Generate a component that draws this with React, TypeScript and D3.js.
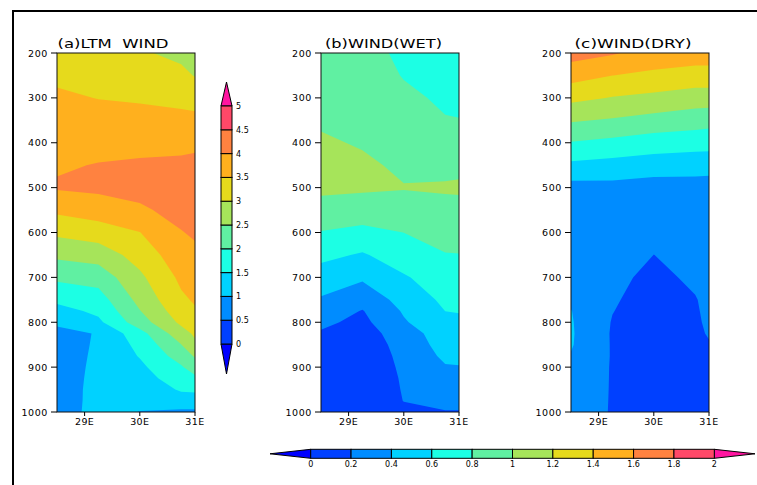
import React from 'react';
import * as d3 from 'd3';

// ---- grid ----
const LONS = [28.5, 29.25, 30, 30.75, 31];
const LEVELS = [200, 250, 300, 350, 400, 450, 500, 550, 600, 650, 700, 750, 775, 800, 825, 850, 875, 900, 925, 950, 975, 1000];
const Y_TICKS = [200, 300, 400, 500, 600, 700, 800, 900, 1000];
const X_TICKS = [29, 30, 31];
const X_TICK_LABELS = ['29E', '30E', '31E'];

// ---- (a) LTM WIND, one array per longitude column (top 200 hPa -> bottom 1000 hPa) ----
const ltm_lon2850 = [3.2, 3.42, 3.57, 3.68, 3.8, 3.95, 4.05, 3.6, 3.1, 2.6, 2.1, 1.6, 1.33, 1.06, 0.9, 0.85, 0.83, 0.82, 0.81, 0.8, 0.79, 0.78];
const ltm_lon2925 = [3.2, 3.35, 3.49, 3.65, 3.85, 4.02, 4.1, 3.75, 3.25, 2.72, 2.2, 1.78, 1.6, 1.4, 1.02, 1.04, 1.06, 1.08, 1.1, 1.12, 1.13, 1.15];
const ltm_lon3000 = [3.05, 3.25, 3.45, 3.65, 3.85, 4.07, 4.15, 3.93, 3.49, 3.2, 2.9, 2.65, 2.48, 2.27, 1.82, 1.64, 1.53, 1.4, 1.3, 1.2, 1.1, 0.99];
const ltm_lon3075 = [2.9, 3.1, 3.38, 3.62, 3.87, 4.1, 4.22, 4.15, 3.98, 3.8, 3.6, 3.42, 3.28, 3.1, 2.8, 2.49, 2.22, 1.95, 1.75, 1.55, 1.3, 0.9];
const ltm_lon3100 = [2.85, 2.98, 3.32, 3.62, 3.88, 4.15, 4.25, 4.22, 4.06, 3.9, 3.73, 3.55, 3.45, 3.28, 3.08, 2.9, 2.55, 2.23, 1.9, 1.59, 1.25, 0.92];

// ---- (b) WIND(WET) ----
const wet_lon2850 = [0.88, 0.91, 0.94, 0.97, 1.03, 1.07, 1.04, 0.93, 0.79, 0.65, 0.51, 0.38, 0.32, 0.24, 0.18, 0.15, 0.13, 0.12, 0.11, 0.1, 0.1, 0.09];
const wet_lon2925 = [0.87, 0.9, 0.93, 0.96, 0.98, 1.04, 1.03, 0.9, 0.75, 0.58, 0.43, 0.27, 0.19, 0.15, 0.13, 0.12, 0.11, 0.1, 0.1, 0.09, 0.09, 0.08];
const wet_lon3000 = [0.76, 0.79, 0.84, 0.88, 0.92, 0.96, 1.01, 0.92, 0.801, 0.7, 0.58, 0.47, 0.42, 0.38, 0.28, 0.25, 0.235, 0.225, 0.215, 0.21, 0.203, 0.17];
const wet_lon3075 = [0.7, 0.73, 0.77, 0.81, 0.88, 0.95, 1.02, 0.95, 0.88, 0.79, 0.7, 0.64, 0.601, 0.55, 0.53, 0.49, 0.44, 0.385, 0.33, 0.29, 0.25, 0.19];
const wet_lon3100 = [0.69, 0.72, 0.76, 0.805, 0.88, 0.95, 1.03, 0.94, 0.88, 0.795, 0.7, 0.64, 0.61, 0.56, 0.53, 0.49, 0.45, 0.39, 0.33, 0.29, 0.25, 0.19];

// ---- (c) WIND(DRY) ----
const dry_lon2850 = [1.68, 1.48, 1.25, 1.02, 0.79, 0.56, 0.33, 0.31, 0.3, 0.3, 0.31, 0.37, 0.405, 0.415, 0.42, 0.415, 0.39, 0.34, 0.32, 0.3, 0.29, 0.28];
const dry_lon2925 = [1.62, 1.401, 1.19, 0.98, 0.75, 0.53, 0.34, 0.32, 0.31, 0.29, 0.25, 0.22, 0.205, 0.19, 0.183, 0.185, 0.187, 0.188, 0.189, 0.19, 0.19, 0.19];
const dry_lon3000 = [1.52, 1.36, 1.15, 0.93, 0.7, 0.5, 0.31, 0.29, 0.24, 0.199, 0.15, 0.12, 0.11, 0.1, 0.1, 0.1, 0.1, 0.1, 0.1, 0.1, 0.1, 0.1];
const dry_lon3075 = [1.5, 1.32, 1.1, 0.89, 0.68, 0.48, 0.32, 0.29, 0.27, 0.25, 0.235, 0.19, 0.18, 0.175, 0.17, 0.17, 0.16, 0.16, 0.16, 0.155, 0.155, 0.15];
const dry_lon3100 = [1.5, 1.32, 1.1, 0.87, 0.68, 0.47, 0.32, 0.29, 0.27, 0.26, 0.25, 0.245, 0.24, 0.227, 0.212, 0.19, 0.18, 0.17, 0.17, 0.16, 0.16, 0.16];

// ---- contour levels / colour bars ----
const LTM_LEVELS = [0, 0.5, 1, 1.5, 2, 2.5, 3, 3.5, 4, 4.5, 5];
const LTM_LABELS = ['0', '0.5', '1', '1.5', '2', '2.5', '3', '3.5', '4', '4.5', '5'];
const DIFF_LEVELS = [0, 0.2, 0.4, 0.6, 0.8, 1, 1.2, 1.4, 1.6, 1.8, 2];
const DIFF_LABELS = ['0', '0.2', '0.4', '0.6', '0.8', '1', '1.2', '1.4', '1.6', '1.8', '2'];
// below-first, 10 bands, above-last
const COLORS = ['#0000ff', '#0040ff', '#008cff', '#00d2ff', '#1cffe4', '#60f0a2', '#a6e45a', '#e6da1c', '#ffb01e', '#ff8240', '#ff4868', '#ff14a0'];

const FONT = 'DejaVu Sans, sans-serif';
const PLOT_W = 138;
const PLOT_TOP = 53;
const PLOT_BOT = 412;

type PanelProps = {
  id: string;
  x0: number;
  title: string;
  titleX: number;
  titleLen: number;
  cols: number[][];
  levels: number[];
};

function Panel({ id, x0, title, titleX, titleLen, cols, levels }: PanelProps) {
  const xS = d3.scaleLinear().domain([28.5, 31]).range([x0, x0 + PLOT_W]);
  const yS = d3.scaleLinear().domain([200, 1000]).range([PLOT_TOP, PLOT_BOT]);
  const nx = cols.length;
  const ny = LEVELS.length;
  const values: number[] = new Array(nx * ny);
  for (let j = 0; j < ny; j++) for (let i = 0; i < nx; i++) values[j * nx + i] = cols[i][j];
  const iLon = d3.scaleLinear().domain(d3.range(nx)).range(LONS);
  const jP = d3.scaleLinear().domain(d3.range(ny)).range(LEVELS);
  const gen = d3.contours().size([nx, ny]);
  const toPath = (geom: any) =>
    geom.coordinates
      .map((poly: number[][][]) =>
        poly
          .map(
            (ring) =>
              'M' +
              ring
                .map(([cx, cy]) => `${xS(iLon(cx - 0.5)).toFixed(2)},${yS(jP(cy - 0.5)).toFixed(2)}`)
                .join('L') +
              'Z'
          )
          .join('')
      )
      .join('');
  const bands = levels.map((t, k) => ({ d: toPath(gen.contour(values, t)), color: COLORS[k + 1] }));
  const clipId = `clip-${id}`;
  return (
    <g>
      <defs>
        <clipPath id={clipId}>
          <rect x={x0} y={PLOT_TOP} width={PLOT_W} height={PLOT_BOT - PLOT_TOP} />
        </clipPath>
      </defs>
      <g clipPath={`url(#${clipId})`}>
        <rect x={x0} y={PLOT_TOP} width={PLOT_W} height={PLOT_BOT - PLOT_TOP} fill={COLORS[0]} />
        {bands.map((b, k) => (
          <path key={k} d={b.d} fill={b.color} stroke="none" />
        ))}
      </g>
      <rect x={x0} y={PLOT_TOP} width={PLOT_W} height={PLOT_BOT - PLOT_TOP} fill="none" stroke="#111" strokeWidth={1} />
      {Y_TICKS.map((p) => (
        <g key={p}>
          <line x1={x0 - 6} x2={x0} y1={yS(p)} y2={yS(p)} stroke="#000" strokeWidth={1} />
          <text x={x0 - 9} y={yS(p) + 3.5} textAnchor="end" fontFamily={FONT} fontSize={9.5} letterSpacing={0.6} fill="#000">
            {p}
          </text>
        </g>
      ))}
      {X_TICKS.map((lon, k) => (
        <g key={lon}>
          <line x1={xS(lon)} x2={xS(lon)} y1={PLOT_BOT} y2={PLOT_BOT + 4} stroke="#000" strokeWidth={1} />
          <text x={xS(lon)} y={PLOT_BOT + 12.5} textAnchor="middle" fontFamily={FONT} fontSize={9.5} letterSpacing={0.4} fill="#000">
            {X_TICK_LABELS[k]}
          </text>
        </g>
      ))}
      <text x={titleX} y={48} fontFamily={FONT} fontSize={12.5} textLength={titleLen} lengthAdjust="spacingAndGlyphs" fill="#000" style={{ whiteSpace: 'pre' }}>
        {title}
      </text>
    </g>
  );
}

function VerticalBar() {
  const x0 = 221;
  const w = 11;
  const yS = d3.scaleLinear().domain([0, 5]).range([344, 106]);
  const n = LTM_LEVELS.length;
  return (
    <g>
      <polygon points={`${x0},${yS(5)} ${x0 + w},${yS(5)} ${x0 + w / 2},82`} fill={COLORS[n]} stroke="#000" strokeWidth={1} />
      <polygon points={`${x0},${yS(0)} ${x0 + w},${yS(0)} ${x0 + w / 2},374`} fill={COLORS[0]} stroke="#000" strokeWidth={1} />
      {LTM_LEVELS.slice(0, n - 1).map((t, k) => (
        <rect key={k} x={x0} y={yS(LTM_LEVELS[k + 1])} width={w} height={yS(t) - yS(LTM_LEVELS[k + 1])} fill={COLORS[k + 1]} stroke="#000" strokeWidth={1} />
      ))}
      {LTM_LEVELS.map((t, k) => (
        <text key={k} x={x0 + w + 4} y={yS(t) + 3} fontFamily={FONT} fontSize={8} fill="#000">
          {LTM_LABELS[k]}
        </text>
      ))}
    </g>
  );
}

function HorizontalBar() {
  const y0 = 449.3;
  const h = 9;
  const xS = d3.scaleLinear().domain([0, 2]).range([310.7, 714.3]);
  const n = DIFF_LEVELS.length;
  return (
    <g>
      <polygon points={`${xS(0)},${y0} ${xS(0)},${y0 + h} 270,${y0 + h / 2}`} fill={COLORS[0]} stroke="#000" strokeWidth={1} />
      <polygon points={`${xS(2)},${y0} ${xS(2)},${y0 + h} 755,${y0 + h / 2}`} fill={COLORS[n]} stroke="#000" strokeWidth={1} />
      {DIFF_LEVELS.slice(0, n - 1).map((t, k) => (
        <rect key={k} x={xS(t)} y={y0} width={xS(DIFF_LEVELS[k + 1]) - xS(t)} height={h} fill={COLORS[k + 1]} stroke="#000" strokeWidth={1} />
      ))}
      {DIFF_LEVELS.map((t, k) => (
        <text key={k} x={xS(t)} y={467} textAnchor="middle" fontFamily={FONT} fontSize={8} fill="#000">
          {DIFF_LABELS[k]}
        </text>
      ))}
    </g>
  );
}

export default function App() {
  const ltm = [ltm_lon2850, ltm_lon2925, ltm_lon3000, ltm_lon3075, ltm_lon3100];
  const wet = [wet_lon2850, wet_lon2925, wet_lon3000, wet_lon3075, wet_lon3100];
  const dry = [dry_lon2850, dry_lon2925, dry_lon3000, dry_lon3075, dry_lon3100];
  return (
    <svg width={757} height={485} viewBox="0 0 757 485" style={{ position: 'absolute', left: 0, top: 0, display: 'block' }}>
      <rect x={0} y={0} width={757} height={485} fill="#fff" />
      <path d="M13,485V11H757" fill="none" stroke="#000" strokeWidth={2} />
      <Panel id="a" x0={57} title="(a)LTM  WIND" titleX={57.5} titleLen={111} cols={ltm} levels={LTM_LEVELS} />
      <Panel id="b" x0={321} title="(b)WIND(WET)" titleX={325} titleLen={117} cols={wet} levels={DIFF_LEVELS} />
      <Panel id="c" x0={571} title="(c)WIND(DRY)" titleX={574.5} titleLen={117} cols={dry} levels={DIFF_LEVELS} />
      <VerticalBar />
      <HorizontalBar />
    </svg>
  );
}
